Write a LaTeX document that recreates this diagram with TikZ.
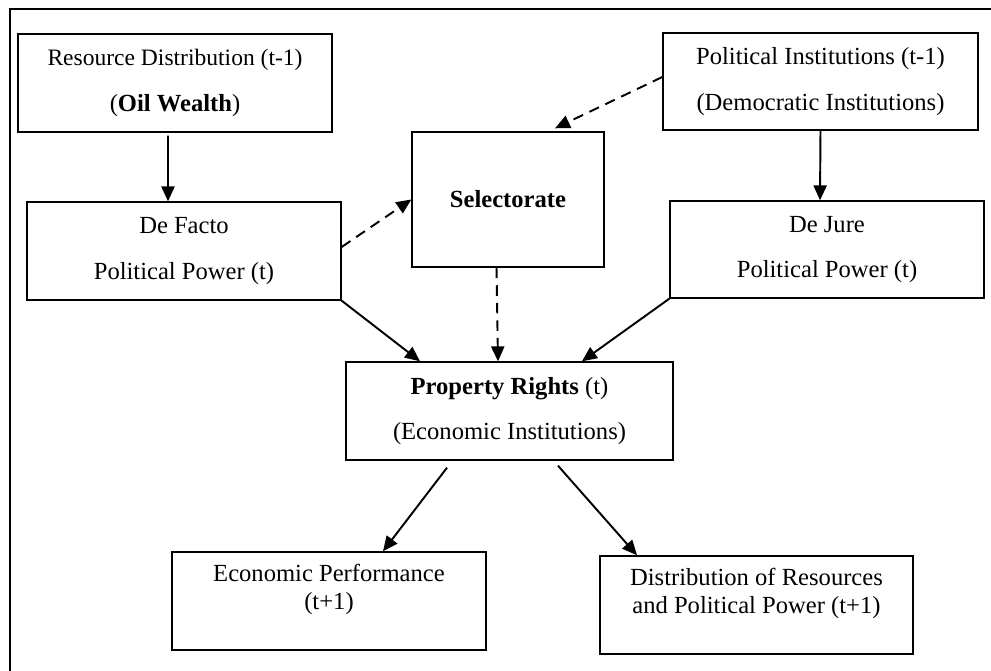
\documentclass[tikz,border=0pt]{standalone}
\usepackage{fontspec}
\setmainfont{Liberation Serif}
\usetikzlibrary{arrows.meta}

\tikzset{
  box/.style={shape=rectangle,draw=black,align=center,line width=0.8pt,
    minimum width=6.28cm,minimum height=1.96cm,inner sep=0pt,
    font=\fontsize{14}{26}\selectfont},
  lowbox/.style={box,font=\fontsize{14}{16}\selectfont},
  link/.style={draw=black,line width=1.1pt,-{Triangle[length=8.5pt,width=7.5pt]}},
  dashlink/.style={link,dash pattern=on 6pt off 4pt}
}

\begin{document}
\begin{tikzpicture}[x=0.02cm,y=-0.02cm]
\useasboundingbox (0,0) rectangle (991,671);
\draw[line width=0.9pt] (10,671) -- (10,9) -- (991,9);

\node[box] (res) at (175,83) {\fontsize{13.4}{26}\selectfont Resource Distribution (t-1)\\(\textbf{Oil Wealth})};
\node[box,minimum width=6.3cm,minimum height=1.94cm] (pol) at (820.5,81.5) {Political Institutions (t-1)\\(Democratic Institutions)};
\node[box] (fact) at (184,251) {De Facto\\Political Power (t)};
\node[box,minimum width=3.84cm,minimum height=2.7cm] (sel) at (508,199.5) {\textbf{Selectorate}};
\node[box,minimum height=1.94cm] (jure) at (827,249.5) {De Jure\\Political Power (t)};
\node[box,minimum width=6.54cm] (prop) at (509.5,411) {\textbf{Property Rights} (t)\\(Economic Institutions)};
\node[lowbox] (econ) at (329,601) {Economic Performance\\(t+1)\\\mbox{}};
\node[lowbox,minimum width=6.26cm] (dist) at (756.5,605) {Distribution of Resources\\and Political Power (t+1)\\\mbox{}};

\draw [link] ([xshift=-0.14cm,yshift=-0.06cm]res.south) -- ([xshift=-0.32cm]fact.north);
\draw [link] (pol.south) -- ([xshift=-0.14cm]jure.north);
\draw [dashlink] ([yshift=0.08cm]fact.east) -- (sel.west);
\draw [dashlink] ([yshift=0.09cm]pol.west) -- ([xshift=0.94cm,yshift=0.06cm]sel.north);
\draw [link] (fact.south east) -- ([xshift=-1.79cm]prop.north);
\draw [dashlink] ([xshift=-0.23cm]sel.south) -- ([xshift=-0.23cm]prop.north);
\draw [link] (jure.south west) -- ([xshift=1.45cm]prop.north);
\draw [link] ([xshift=-1.25cm,yshift=-0.14cm]prop.south) -- ([xshift=1.08cm]econ.north);
\draw [link] ([xshift=0.97cm,yshift=-0.1cm]prop.south) -- ([xshift=-2.39cm]dist.north);
\end{tikzpicture}
\end{document}
